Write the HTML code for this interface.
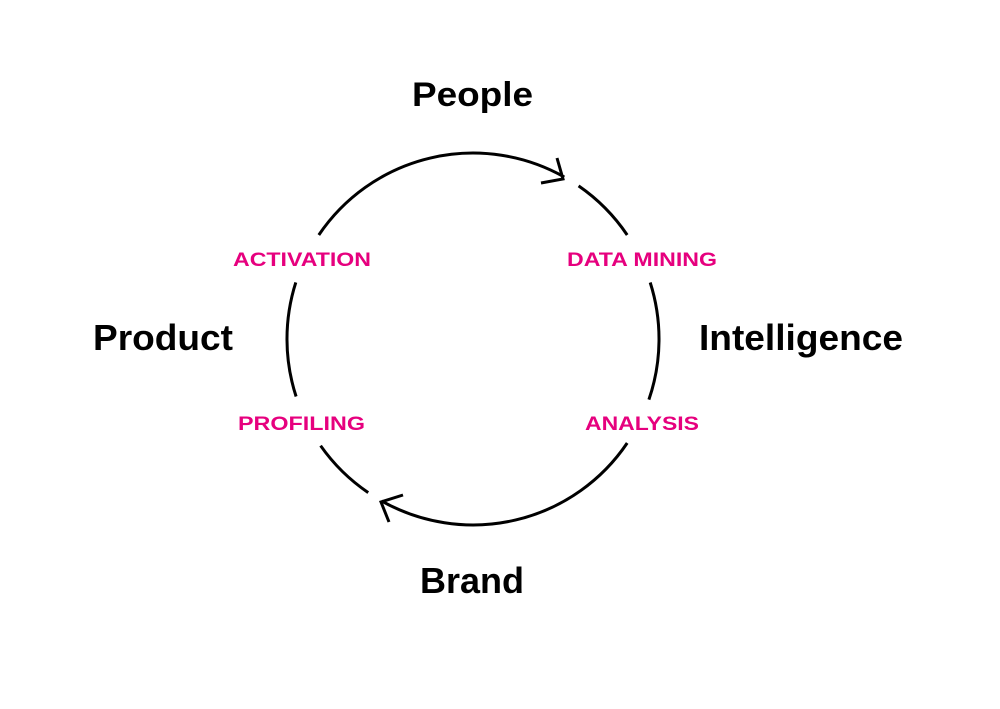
<!DOCTYPE html>
<html><head><meta charset="utf-8"><style>
html,body{margin:0;padding:0;background:#fff;}
svg{display:block;}
</style></head><body>
<svg width="1000" height="709" viewBox="0 0 1000 709" xmlns="http://www.w3.org/2000/svg">
<rect width="1000" height="709" fill="#fff"/>
<g fill="none" stroke="#000" stroke-width="3" stroke-linecap="butt" stroke-linejoin="miter">
<path d="M578.6,185.9 A186,186 0 0 1 627.2,235.0"/>
<path d="M650.2,282.5 A186,186 0 0 1 648.9,399.6"/>
<path d="M627.2,443.0 A186,186 0 0 1 381.7,501.0"/>
<path d="M368.2,492.6 A186,186 0 0 1 320.6,445.7"/>
<path d="M296.1,396.5 A186,186 0 0 1 295.8,282.4"/>
<path d="M318.8,235.0 A186,186 0 0 1 564.3,177.0"/>
<path d="M541,183 L563,179 L557,158"/>
<path d="M403,495 L381,502 L389,522"/>
</g>
<g font-family="Liberation Sans, Arial, sans-serif" font-weight="bold">
<text x="412" y="106" font-size="34" textLength="121" lengthAdjust="spacingAndGlyphs" fill="#000">People</text>
<text x="93" y="350" font-size="36" textLength="140" lengthAdjust="spacingAndGlyphs" fill="#000">Product</text>
<text x="699" y="350" font-size="36" textLength="204" lengthAdjust="spacingAndGlyphs" fill="#000">Intelligence</text>
<text x="420" y="593" font-size="36" textLength="104" lengthAdjust="spacingAndGlyphs" fill="#000">Brand</text>
<g fill="#e6007e" font-size="19">
<text x="233" y="266" textLength="138" lengthAdjust="spacingAndGlyphs">ACTIVATION</text>
<text x="567" y="266" textLength="150" lengthAdjust="spacingAndGlyphs">DATA MINING</text>
<text x="238" y="430" textLength="127" lengthAdjust="spacingAndGlyphs">PROFILING</text>
<text x="585" y="430" textLength="114" lengthAdjust="spacingAndGlyphs">ANALYSIS</text>
</g>
</g>
</svg>
</body></html>
